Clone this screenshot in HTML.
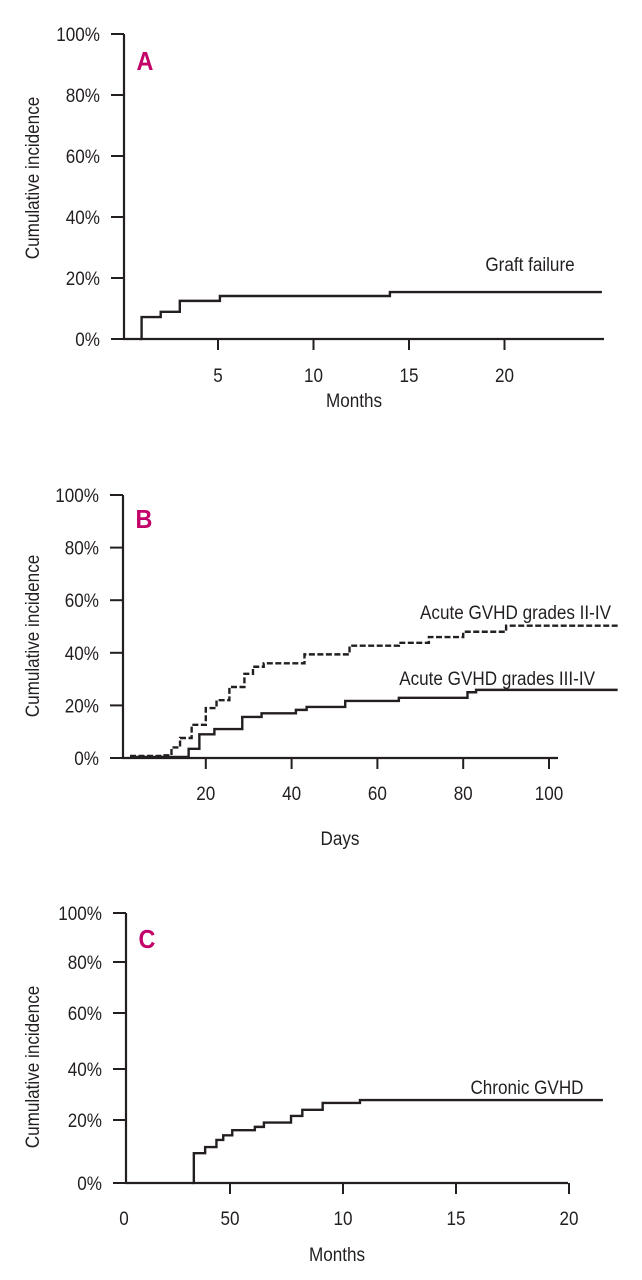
<!DOCTYPE html>
<html><head><meta charset="utf-8"><style>
html,body{margin:0;padding:0;background:#fff;}
svg{display:block;font-family:"Liberation Sans Narrow","Liberation Sans",sans-serif;}
text{fill:#231f20;}
</style></head><body>
<svg id="chart" width="642" height="1280" viewBox="0 0 642 1280" xmlns="http://www.w3.org/2000/svg"></svg>
<script>
// Panel A data (months, %)
const aTimes = [1, 2, 3, 5.1, 14, 25.1];
const aValues = [7.2, 8.9, 12.5, 14.1, 15.4, 15.4];
const aXTicks = [5, 10, 15, 20];
const aXTickLabels = ['5', '10', '15', '20'];
// Panel B data (days, %)
const bTimesII = [10, 12, 14, 16.7, 20, 22.5, 25.5, 29, 31, 33.5, 43, 53.5, 65, 72, 80, 90, 116];
const bValuesII = [1, 4, 7.6, 12.6, 19, 22, 27, 32, 34.7, 36, 39.4, 42.7, 43.8, 46, 48, 50.3, 50.3];
const bTimesIII = [16, 18.5, 22, 28.5, 33, 41, 43.5, 52.5, 65, 81, 83, 116];
const bValuesIII = [3.5, 9, 11, 15.6, 17, 18.3, 19.4, 21.7, 22.9, 25, 25.9, 25.9];
const bXTicks = [20, 40, 60, 80, 100];
const bXTickLabels = ['20', '40', '60', '80', '100'];
// Panel C data (months, %)
const cTimes = [3.4, 3.9, 4.4, 4.7, 5.1, 6.1, 6.5, 7.7, 8.2, 9.1, 10.75, 21.5];
const cValues = [7, 9.4, 12.2, 14, 16, 17.3, 19, 21.6, 24, 26.7, 27.8, 27.8];
const cXTicks = [5, 10, 15, 20];
const cXTickLabels = ['50', '10', '15', '20'];
const yTicks = [0, 20, 40, 60, 80, 100];
const yTickLabels = ['0%', '20%', '40%', '60%', '80%', '100%'];

const svg = document.getElementById('chart');
const NS = 'http://www.w3.org/2000/svg';
const FS = 19;
function mk(tag, attrs, parent) {
  const e = document.createElementNS(NS, tag);
  for (const k in attrs) e.setAttribute(k, attrs[k]);
  (parent || svg).appendChild(e);
  return e;
}
function txt(str, x, y, size, anchor, parent) {
  const t = mk('text', {x: x, y: y, 'font-size': size, 'text-anchor': anchor || 'middle'}, parent);
  t.textContent = str;
  return t;
}
function piecewise(vals, pos) {
  return function (v) {
    for (let i = 0; i < vals.length - 1; i++) {
      if (v <= vals[i + 1] || i === vals.length - 2) {
        return pos[i] + (v - vals[i]) / (vals[i + 1] - vals[i]) * (pos[i + 1] - pos[i]);
      }
    }
  };
}
function panel(cfg) {
  const g = mk('g', {});
  
  
  const x = cfg.x, y = cfg.y;
  const base = cfg.baseY;
  const ya = mk('line', {x1: cfg.axisX, y1: y(100), x2: cfg.axisX, y2: base, stroke: '#231f20', 'stroke-width': 2.2}, g);
  
  
  yTicks.forEach(function (v, i) {
    const ty = v === 0 ? base : y(v);
    const tk = mk('line', {x1: cfg.axisX - 13, y1: ty, x2: cfg.axisX, y2: ty, stroke: '#231f20', 'stroke-width': 2}, g);
    
    
    const tl = txt(yTickLabels[i], cfg.axisX - 24, ty + 7, FS, 'end', g);
    
    
  });
  const xa = mk('line', {x1: cfg.axisX - 1, y1: base, x2: cfg.xEnd, y2: base, stroke: '#231f20', 'stroke-width': 2.2}, g);
  
  
  cfg.xTicks.forEach(function (v, i) {
    const tx = x(v);
    const tk = mk('line', {x1: tx, y1: base, x2: tx, y2: base + 11, stroke: '#231f20', 'stroke-width': 2}, g);
    
    
    const tl = txt(cfg.xTickLabels[i], tx, cfg.tickLabelY, FS, 'middle', g);
    
    
  });
  if (cfg.zeroLabel) {
    const zl = txt(cfg.zeroLabel, cfg.zeroLabelX, cfg.tickLabelY, FS, 'middle', g);
    
    
  }
  const xt = txt(cfg.xTitle, cfg.xTitleX, cfg.xTitleY, FS, 'middle', g);
  
  
  const yt = txt('Cumulative incidence', 0, 0, FS, 'middle', g);
  yt.setAttribute('transform', 'translate(39,' + cfg.yTitleY + ') rotate(-90)');
  
  
  const pl = txt(cfg.letter, cfg.axisX + 21, cfg.letterY, 26, 'middle', g);
  pl.setAttribute('style', 'fill:#c4006a;font-weight:bold;');
  
  
  return g;
}
function stepPath(times, values, x, y, base, startX) {
  let d = 'M' + startX + ',' + base;
  let prevY = base;
  for (let i = 0; i < times.length; i++) {
    const px = x(times[i]);
    d += ' L' + px + ',' + prevY;
    const py = y(values[i]);
    d += ' L' + px + ',' + py;
    prevY = py;
  }
  return d;
}

// ---------- Panel A ----------
const axA = function (m) { return 122.5 + m * 19.1; };
const ayA = function (v) { return 339 - v * 3.05; };
const gA = panel({name: 'panel-a', x: axA, y: ayA, baseY: 339, axisX: 124, xEnd: 604, xTicks: aXTicks, xTickLabels: aXTickLabels,
  tickLabelY: 382, xTitle: 'Months', xTitleX: 354, xTitleY: 407, yTitleY: 178, letter: 'A', letterY: 70});
const pA = mk('path', {d: stepPath(aTimes, aValues, axA, ayA, 339, 142), fill: 'none', stroke: '#231f20', 'stroke-width': 2.4}, gA);


const lA = txt('Graft failure', 530, 271, FS, 'middle', gA);



// ---------- Panel B ----------
const axB = function (d) { return 120 + d * 4.29; };
const ayB = function (v) { return 758 - v * 2.63; };
const gB = panel({name: 'panel-b', x: axB, y: ayB, baseY: 758, axisX: 123, xEnd: 558, xTicks: bXTicks, xTickLabels: bXTickLabels,
  tickLabelY: 800, xTitle: 'Days', xTitleX: 340, xTitleY: 845, yTitleY: 636, letter: 'B', letterY: 528});
const pB2 = mk('path', {d: stepPath(bTimesIII, bValuesIII, axB, ayB, 757, 130), fill: 'none', stroke: '#231f20', 'stroke-width': 2.4}, gB);


const pB1 = mk('path', {d: stepPath(bTimesII, bValuesII, axB, ayB, 756, 130), fill: 'none', stroke: '#231f20', 'stroke-width': 2.4, 'stroke-dasharray': '6,2.5'}, gB);


const lB1 = txt('Acute GVHD grades II-IV', 611, 619, FS, 'end', gB);


const lB2 = txt('Acute GVHD grades III-IV', 595, 685, FS, 'end', gB);



// ---------- Panel C ----------
const axC = function (m) { return 117 + m * 22.6; };
const ayC = piecewise([0, 20, 40, 60, 80, 100], [1171, 1120, 1069, 1013, 962, 913]);
const gC = panel({name: 'panel-c', x: axC, y: ayC, baseY: 1183, axisX: 126, xEnd: 568, xTicks: cXTicks, xTickLabels: cXTickLabels,
  tickLabelY: 1225, zeroLabel: '0', zeroLabelX: 124, xTitle: 'Months', xTitleX: 337, xTitleY: 1261, yTitleY: 1067, letter: 'C', letterY: 948});
const pC = mk('path', {d: stepPath(cTimes, cValues, axC, ayC, 1183, 194), fill: 'none', stroke: '#231f20', 'stroke-width': 2.4}, gC);


const lC = txt('Chronic GVHD', 527, 1094, FS, 'middle', gC);



// condense text to mimic the narrow typeface
Array.prototype.forEach.call(svg.querySelectorAll('text'), function (t) {
  const w = t.getComputedTextLength();
  if (w > 0) {
    t.setAttribute('textLength', (w * 0.9).toFixed(1));
    t.setAttribute('lengthAdjust', 'spacingAndGlyphs');
  }
});
</script>
</body></html>
